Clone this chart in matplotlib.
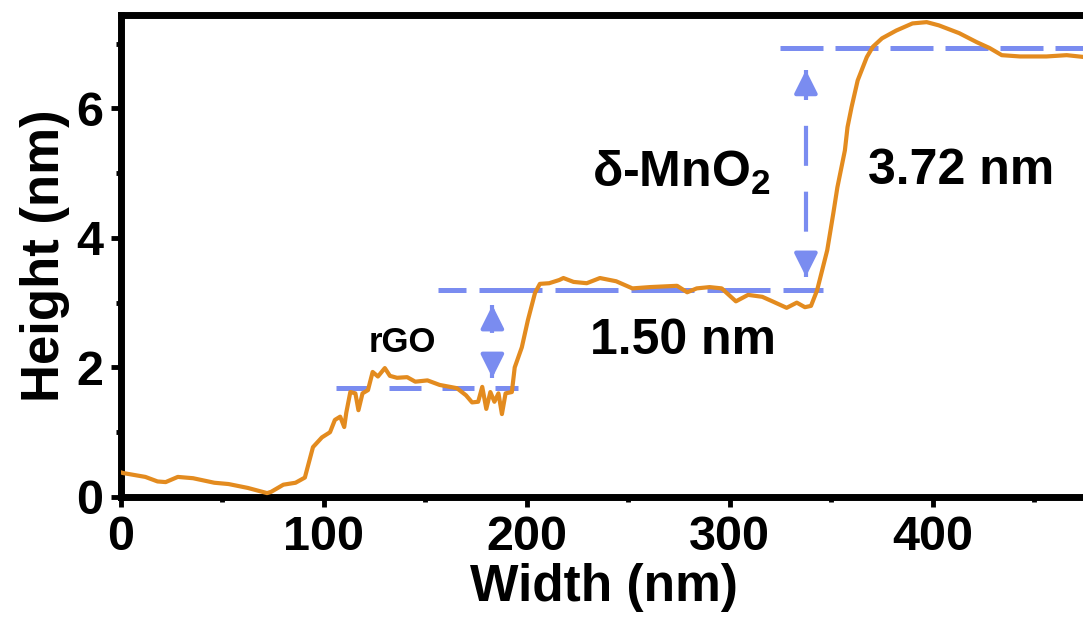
import matplotlib
matplotlib.use("Agg")
import matplotlib.pyplot as plt
from matplotlib.ticker import MultipleLocator

plt.rcParams['font.family'] = ['Liberation Sans', 'DejaVu Sans']
plt.rcParams['font.weight'] = 'bold'
plt.rcParams['axes.labelweight'] = 'bold'

# height profile (width in nm, height in nm)
width = [0, 1, 12, 18, 22, 28, 35.5, 46, 53, 62.5, 72, 74, 80, 86, 90.6, 94.6,
         99, 103, 105.4, 108, 110, 111, 113, 115.5, 117, 119, 121.7, 124, 126.6,
         130, 132.5, 136, 141, 145, 151, 157, 165.5, 170, 173, 176, 178, 180,
         182, 184, 186, 187.7, 189.5, 192.6, 194, 197.5, 200.5, 204, 206.4, 211,
         216, 218, 223, 229.5, 236, 244, 252, 260.6, 274, 279, 283.7, 290, 296,
         303, 309, 316, 321, 328, 333, 337, 340, 343, 348, 351, 353, 356.7, 358,
         360, 363, 367.5, 370.5, 375, 382, 390, 397, 403, 413, 421.7, 428, 434,
         443, 456, 466, 475, 490]
height = [0.38, 0.37, 0.31, 0.24, 0.23, 0.31, 0.29, 0.22, 0.2, 0.14, 0.06, 0.08,
          0.19, 0.22, 0.3, 0.77, 0.92, 1.0, 1.19, 1.24, 1.08, 1.3, 1.62, 1.6,
          1.34, 1.6, 1.65, 1.93, 1.86, 1.99, 1.87, 1.84, 1.85, 1.78, 1.8, 1.73,
          1.68, 1.57, 1.46, 1.47, 1.7, 1.36, 1.62, 1.47, 1.6, 1.28, 1.6, 1.62,
          2.0, 2.31, 2.73, 3.15, 3.29, 3.3, 3.35, 3.38, 3.32, 3.3, 3.38, 3.33,
          3.22, 3.24, 3.26, 3.16, 3.22, 3.24, 3.22, 3.02, 3.12, 3.09, 3.02, 2.92,
          3.0, 2.93, 2.95, 3.19, 3.81, 4.38, 4.78, 5.35, 5.71, 6.02, 6.43, 6.79,
          6.95, 7.08, 7.2, 7.31, 7.33, 7.28, 7.16, 7.02, 6.93, 6.82, 6.8, 6.8,
          6.82, 6.79, 6.79]

# reference levels and the two step heights
rgo_level = 1.68
mno2_level = 3.2
top_level = 6.93
rgo_step = [1.84, 2.96]
mno2_step = [3.4, 6.59]

orange = '#E38B1F'
blue = '#7A8CF0'

fig = plt.figure(figsize=(10.83, 6.35), dpi=100)
ax = fig.add_axes([121 / 1083, 138 / 635, (1087 - 121) / 1083, 482 / 635])

ax.plot(width, height, color=orange, lw=3, zorder=3)

ax.plot([106, 195.5], [rgo_level] * 2, color=blue, lw=3.6,
        linestyle=(0, (6.4, 4.2)), zorder=2)
ax.plot([156, 346], [mno2_level] * 2, color=blue, lw=3.6,
        linestyle=(7, (12.6, 2.6)), zorder=2)
ax.plot([324.6, 490], [top_level] * 2, color=blue, lw=3.6,
        linestyle=(0, (8.6, 2.4)), zorder=2)

# dashed double arrows
ax.plot([183, 183], [rgo_step[1], rgo_step[0]], color=blue, lw=3,
        linestyle=(0, (6.7, 4.6)), zorder=2)
ax.plot([337.5, 337.5], [mno2_step[1], mno2_step[0]], color=blue, lw=3,
        linestyle=(2.4, (9.6, 6.2)), zorder=2)
head = dict(arrowstyle='-|>,head_length=14,head_width=7', mutation_scale=1,
            color=blue, lw=3, shrinkA=0, shrinkB=0)
for xa, (lo, hi) in [(183, rgo_step), (337.5, mno2_step)]:
    ax.annotate('', xy=(xa, hi), xytext=(xa, hi - 0.33), arrowprops=head)
    ax.annotate('', xy=(xa, lo), xytext=(xa, lo + 0.33), arrowprops=head)

ax.text(138.5, 2.39, 'rGO', fontsize=25, ha='center', va='center')
ax.text(277, 2.41, '1.50 nm', fontsize=36, ha='center', va='center')
ax.text(232, 5.0, r'δ-MnO$_\mathregular{2}$', fontsize=36, ha='left', va='center')
ax.text(414, 5.03, '3.72 nm', fontsize=36, ha='center', va='center')

ax.set_xlim(0, 476)
ax.set_ylim(0, 7.44)
ax.xaxis.set_major_locator(MultipleLocator(100))
ax.xaxis.set_minor_locator(MultipleLocator(50))
ax.yaxis.set_major_locator(MultipleLocator(2))
ax.yaxis.set_minor_locator(MultipleLocator(1))
ax.tick_params(which='major', length=7, width=3.5, labelsize=35, pad=6)
ax.tick_params(which='minor', length=3.5, width=3.5)
ax.tick_params(top=False, right=False)
for side in ['left', 'bottom', 'top']:
    ax.spines[side].set_linewidth(5)
ax.spines['right'].set_visible(False)

ax.set_xlabel('Width (nm)', fontsize=37, fontweight='bold', labelpad=2)
ax.set_ylabel('Height (nm)', fontsize=38, fontweight='bold', labelpad=4)

fig.savefig('out.png', dpi=100)
